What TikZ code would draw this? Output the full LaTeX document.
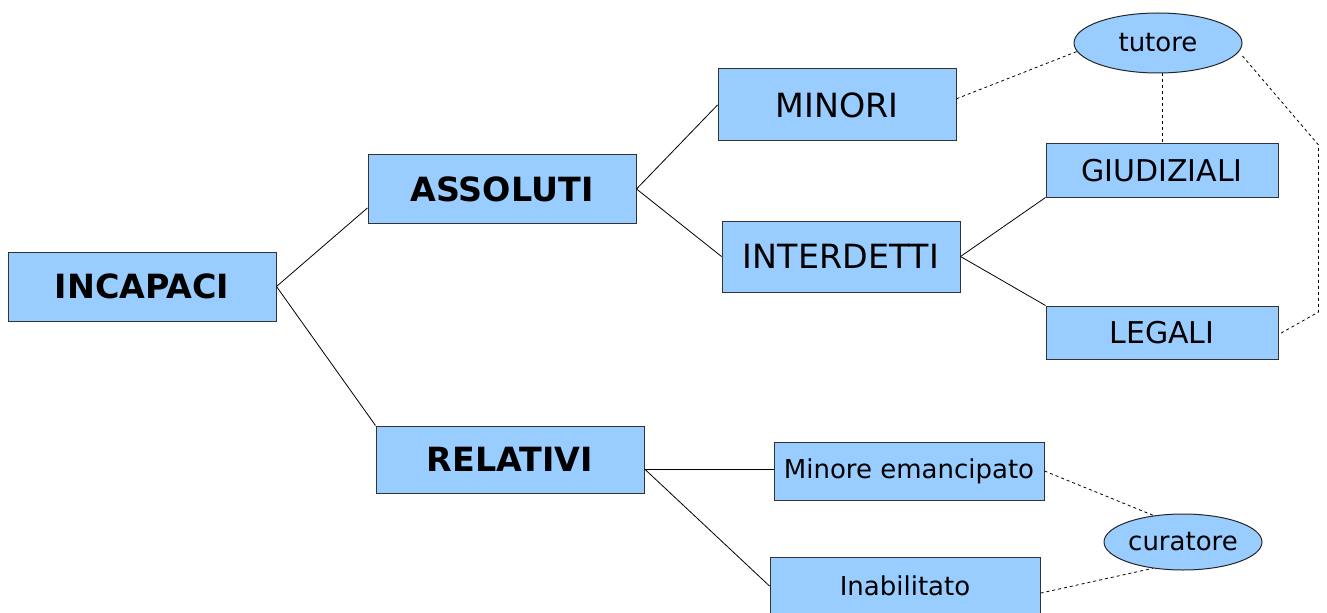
\documentclass[tikz,border=0pt]{standalone}
\usepackage{fontspec}
\setmainfont{DejaVu Sans}
\usepackage{tikz}
\usetikzlibrary{shapes.geometric}
\definecolor{boxblue}{HTML}{99CCFF}

\begin{document}
\begin{tikzpicture}[x=0.75pt, y=-0.75pt,
  box/.style={draw=black!80, fill=boxblue, inner sep=0pt, line width=0.75pt},
  oval/.style={ellipse, draw=black!85, fill=boxblue, inner sep=0pt, line width=0.75pt},
  bigtxt/.style={font=\fontsize{25}{30}\selectfont\bfseries},
  midtxt/.style={font=\fontsize{25}{30}\selectfont},
  subtxt/.style={font=\fontsize{22.5}{27}\selectfont},
  smalltxt/.style={font=\fontsize{19.5}{24}\selectfont},
  link/.style={line width=0.6pt},
  hint/.style={line width=0.6pt, dash pattern=on 2.25pt off 2.25pt}]
  \useasboundingbox (0,0) rectangle (1327,613);
  % main branches
  \node[box, bigtxt, minimum width=201pt, minimum height=51.75pt] (incapaci) at (142,286.5) {INCAPACI};
  \node[box, bigtxt, minimum width=201pt, minimum height=51pt] (assoluti) at (502,189) {ASSOLUTI};
  \node[box, bigtxt, minimum width=201pt, minimum height=50.25pt] (relativi) at (510,459.5) {RELATIVI};
  % absolute ones
  \node[box, midtxt, minimum width=178.5pt, minimum height=54pt] (minori) at (837,105) {MINORI};
  \node[box, midtxt, minimum width=178.5pt, minimum height=53.25pt] (interdetti) at (841,256.5) {INTERDETTI};
  \node[box, subtxt, minimum width=174pt, minimum height=39.75pt] (giudiziali) at (1162,170.5) {GIUDIZIALI};
  \node[box, subtxt, minimum width=174pt, minimum height=39.75pt] (legali) at (1162,332.5) {LEGALI};
  \node[oval, smalltxt, minimum width=126pt, minimum height=45pt] (tutore) at (1158,43) {tutore};
  % relative ones
  \node[box, smalltxt, minimum width=202.5pt, minimum height=43.5pt] (minore) at (909,471) {Minore emancipato};
  \node[box, smalltxt, minimum width=202.5pt, minimum height=43.5pt] (inabilitato) at (905,586) {Inabilitato};
  \node[oval, smalltxt, minimum width=118.5pt, minimum height=42pt] (curatore) at (1183,542) {curatore};

  \draw[link] (incapaci.east) -- (assoluti.188);
  \draw[link] (incapaci.east) -- (relativi.north west);
  \draw[link] (assoluti.east) -- (minori.west);
  \draw[link] (assoluti.east) -- (interdetti.west);
  \draw[link] (interdetti.east) -- (giudiziali.south west);
  \draw[link] (interdetti.east) -- (legali.north west);
  \draw[link] (relativi.356) -- (relativi.356 -| minore.west);
  \draw[link] (relativi.356) -- (inabilitato.west);

  \draw[hint] (minori.3) -- (tutore.186);
  \draw[hint] (giudiziali.north |- tutore.south) -- (giudiziali.north);
  \draw[hint] ([yshift=-9.75pt]tutore.east) -- ++(76,89) -- ++(0,167) -- (legali.359);
  \draw[hint] (minore.east) -- (curatore.138);
  \draw[hint] (inabilitato.357) -- (curatore.221);
\end{tikzpicture}
\end{document}
